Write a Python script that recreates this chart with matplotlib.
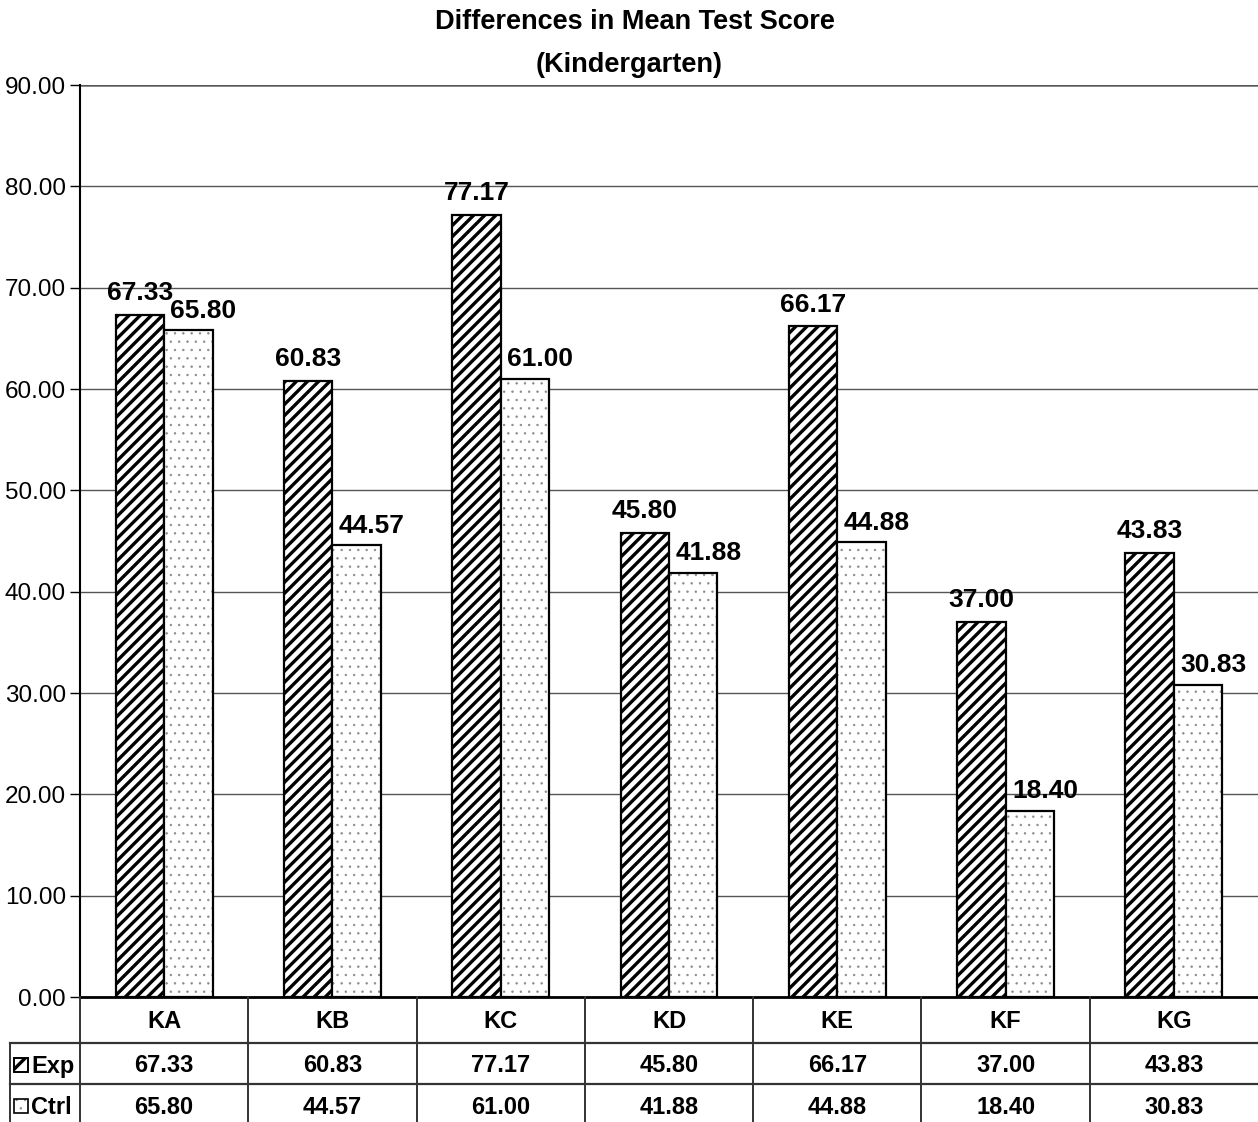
import numpy as np
import matplotlib.pyplot as plt
from matplotlib.patches import Rectangle
from matplotlib.lines import Line2D
from matplotlib.transforms import blended_transform_factory

plt.rcParams['font.family'] = ['Liberation Sans', 'DejaVu Sans']

# Data
kelas = ['KA', 'KB', 'KC', 'KD', 'KE', 'KF', 'KG']
exp_val = [67.33, 60.83, 77.17, 45.80, 66.17, 37.00, 43.83]
ctrl_val = [65.80, 44.57, 61.00, 41.88, 44.88, 18.40, 30.83]
seri = ['Exp', 'Ctrl']

W, H = 1258, 1122
fig = plt.figure(figsize=(W / 100, H / 100), dpi=100)

def fy(py):
    # piksel dari atas -> koordinat figure
    return 1 - py / H

ax = fig.add_axes([80 / W, fy(997), 1 - 80 / W, (997 - 85) / H])

x = np.arange(len(kelas))
lebar = 0.288

# Exp: garis miring hitam tebal
plt.rcParams['hatch.linewidth'] = 2.4
ax.bar(x - lebar / 2, exp_val, lebar, color='white', edgecolor='black',
       hatch='///', linewidth=1.6, zorder=3)
ikon_exp = Rectangle((14 / W, fy(1072)), 14 / W, 14 / H,
                     transform=fig.transFigure, facecolor='white',
                     edgecolor='black', hatch='//', linewidth=1.4)

# Ctrl: titik abu-abu kecil
plt.rcParams['hatch.linewidth'] = 0.5
ax.bar(x + lebar / 2, ctrl_val, lebar, color='white', edgecolor='#8a8a8a',
       hatch='..', linewidth=0, zorder=3)
ax.bar(x + lebar / 2, ctrl_val, lebar, color='none', edgecolor='black',
       linewidth=1.6, zorder=4)
ikon_ctrl = Rectangle((14 / W, fy(1113)), 14 / W, 14 / H,
                      transform=fig.transFigure, facecolor='white',
                      edgecolor='#8a8a8a', hatch='..', linewidth=0)

for xi, v in zip(x - lebar / 2, exp_val):
    ax.text(xi, v + 1.45, f'{v:.2f}', ha='center', va='baseline',
            fontsize=19, fontweight='bold', zorder=5)
for xi, v in zip(x + lebar / 2, ctrl_val):
    ax.text(xi + 0.09, v + 1.25, f'{v:.2f}', ha='center', va='baseline',
            fontsize=19, fontweight='bold', zorder=5)

ax.set_xlim(-0.5, len(kelas) - 0.5)
ax.set_ylim(0, 90)
ax.set_yticks(np.arange(0, 91, 10))
ax.set_yticklabels([f'{t:.2f}' for t in np.arange(0, 91, 10)], fontsize=17.5)
ax.set_xticks([])
ax.tick_params(axis='y', length=7, width=1.0, direction='out', pad=3)
ax.grid(axis='y', color='#555555', linewidth=1.0, zorder=0)
ax.axhline(90, color='#8c8c8c', linewidth=2.0, zorder=1)
for s in ['top', 'right']:
    ax.spines[s].set_visible(False)
ax.spines['left'].set_linewidth(1.5)
ax.spines['bottom'].set_linewidth(2.0)

fig.text(0.505, fy(22), 'Differences in Mean Test Score', ha='center',
         va='center', fontsize=19.5, fontweight='bold')
fig.text(0.5, fy(65), '(Kindergarten)', ha='center', va='center',
         fontsize=19.5, fontweight='bold')

# Tabel data di bawah sumbu
tr = blended_transform_factory(ax.transData, fig.transFigure)
trf = fig.transFigure
for py in [1043, 1084]:
    fig.add_artist(Line2D([10 / W, 1], [fy(py), fy(py)], transform=trf,
                          color='#333333', linewidth=1.6))
for b in np.arange(-0.5, len(kelas) - 0.5, 1.0):
    fig.add_artist(Line2D([b, b], [fy(997), 0], transform=tr,
                          color='#333333', linewidth=1.4))
fig.add_artist(Line2D([10 / W, 10 / W], [fy(1043), 0], transform=trf,
                      color='#333333', linewidth=1.4))

for i, k in enumerate(kelas):
    fig.text(i, fy(1021), k, transform=tr, ha='center', va='center',
             fontsize=17, fontweight='bold')
    fig.text(i, fy(1066), f'{exp_val[i]:.2f}', transform=tr, ha='center',
             va='center', fontsize=17, fontweight='bold')
    fig.text(i, fy(1108), f'{ctrl_val[i]:.2f}', transform=tr, ha='center',
             va='center', fontsize=17, fontweight='bold')

# ikon legenda di kolom label
fig.add_artist(ikon_exp)
fig.add_artist(ikon_ctrl)
fig.add_artist(Rectangle((14 / W, fy(1113)), 14 / W, 14 / H, transform=trf,
                         facecolor='none', edgecolor='black', linewidth=1.2))
fig.text(31 / W, fy(1066), seri[0], ha='left', va='center', fontsize=17,
         fontweight='bold')
fig.text(31 / W, fy(1108), seri[1], ha='left', va='center', fontsize=17,
         fontweight='bold')

plt.savefig('out.png', dpi=100)
